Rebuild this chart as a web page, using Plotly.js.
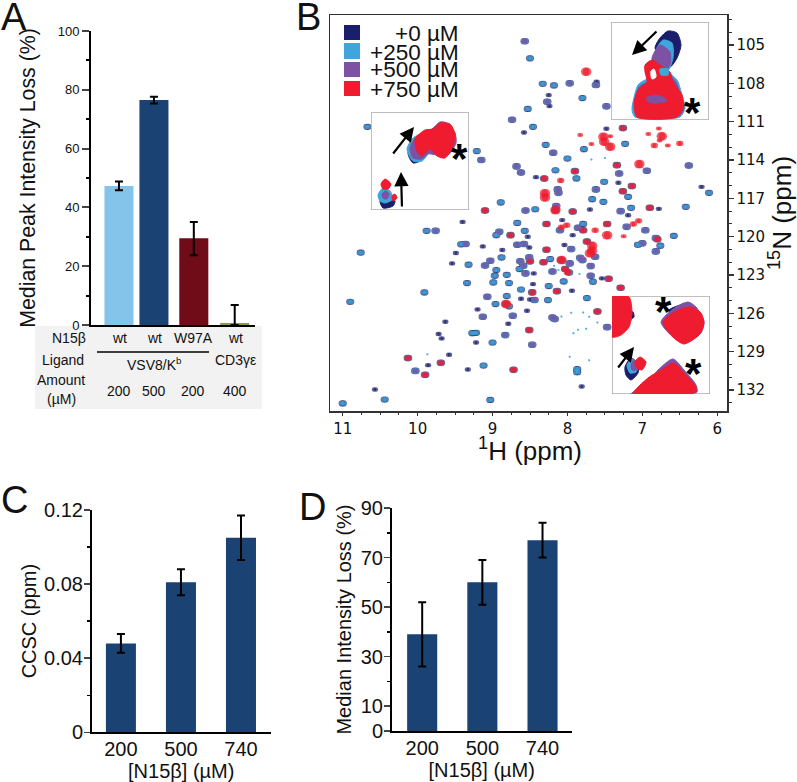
<!DOCTYPE html>
<html><head><meta charset="utf-8">
<script src="https://cdn.plot.ly/plotly-3.0.1.min.js"></script>
<style>html,body{margin:0;padding:0;background:#fff}</style></head>
<body><div id="chart" style="width:797px;height:782px"></div>
<script>
// ---- Panel A ----
const aPos=[0,1,2.14,3.31];
const aValues=[47.3,76.5,29.5,0.7];
const aErrPlus=[1.5,1.1,5.5,6.1];
const aErrMinus=[1.5,1.2,5.8,0.7];
const aColors=['#85c4ea','#1a4273','#6f0c18','#8a9a48'];
const aN15=['wt','wt','W97A','wt'];
const aAmount=['200','500','200','400'];
// ---- Panel C ----
const cCats=['200','500','740'];
const cValues=[0.048,0.081,0.105];
const cErrPlus=[0.005,0.007,0.012];
const cErrMinus=[0.005,0.007,0.012];
// ---- Panel D ----
const dValues=[39,60,77];
const dErrPlus=[13,9,7];
const dErrMinus=[13,9,7];
// ---- Panel B peaks (1H ppm, 15N ppm) ----
const fullPeaks=[[8.57,104.71],[7.97,108.0],[7.62,108.13],[8.27,109.44],[7.48,109.8],[8.74,110.85],[7.26,111.5],[8.19,113.43],[9.15,114.0],[7.34,114.4],[6.94,114.84],[6.38,114.43],[8.68,114.5],[8.62,114.97],[7.9,114.87],[7.31,115.05],[8.31,115.44],[7.14,116.04],[7.26,116.44],[7.62,116.3],[8.12,116.57],[8.13,116.3],[9.10,117.95],[8.56,117.95],[8.16,117.92],[8.15,117.6],[7.93,118.03],[7.29,118.0],[6.90,117.74],[9.76,119.54],[8.91,119.62],[8.76,119.88],[8.28,119.0],[8.10,119.5],[7.79,119.5],[7.86,119.3],[7.47,119.0],[7.21,119.23],[6.96,119.5],[6.82,120.1],[9.36,120.57],[8.67,120.63],[8.58,120.57],[8.28,121.02],[7.95,120.97],[7.74,120.37],[7.63,121.57],[7.0,120.52],[6.8,120.2],[6.82,121.15],[9.1,122.25],[9.03,121.88],[8.63,121.93],[8.59,122.27],[8.51,121.62],[8.5,121.93],[8.32,122.0],[8.08,121.83],[7.97,122.09],[7.8,121.83],[7.83,121.65],[7.69,122.3],[8.56,122.87],[8.2,122.72],[8.03,122.53],[7.98,122.8],[7.69,123.05],[7.45,123.29],[8.47,124.36],[8.14,124.26],[7.29,124.0],[9.07,124.7],[8.82,125.27],[8.73,126.19],[9.13,126.27],[8.2,126.32],[8.17,126.45],[7.6,125.85],[7.47,127.08],[8.51,127.31],[8.83,127.7],[8.47,128.46],[10.13,129.5],[9.69,129.87],[10.03,130.5],[9.9,130.81],[8.72,130.42],[8.44,124.95]];
const bluePeaks=[[8.50,106.04],[8.33,108.03],[8.18,108.16],[7.80,109.15],[8.53,110.0],[8.46,111.4],[10.67,111.4],[7.78,113.15],[8.29,112.81],[7.23,112.73],[9.21,113.3],[8.0,113.88],[8.16,114.8],[7.88,115.44],[7.51,115.7],[6.11,116.57],[7.67,117.06],[7.52,117.27],[7.19,116.88],[8.89,117.32],[8.43,117.85],[7.15,117.74],[6.42,117.66],[9.88,119.54],[8.95,119.88],[8.67,118.92],[8.57,119.54],[7.79,119.0],[6.58,119.93],[9.42,120.6],[10.76,121.25],[8.88,121.62],[8.23,121.75],[7.06,120.63],[6.76,120.7],[9.32,122.19],[8.95,122.61],[8.64,122.53],[8.81,122.98],[8.97,123.05],[9.34,123.63],[8.99,123.58],[8.78,123.63],[8.05,123.5],[7.66,123.52],[8.25,123.86],[8.62,124.13],[9.91,124.36],[8.81,124.65],[10.9,125.09],[8.96,125.27],[8.78,125.45],[8.26,124.96],[7.74,124.8],[9.22,127.52],[9.27,127.55],[9.0,128.28],[9.12,130.08],[7.87,130.37],[7.87,130.6],[10.44,132.74],[11.0,133.05],[9.03,132.77]];
const darkPeaks=[[7.61,107.87],[8.25,108.92],[8.24,109.78],[8.58,111.84],[7.48,111.55],[8.42,115.34],[7.32,115.78],[6.21,116.1],[9.40,118.84],[7.70,117.87],[7.19,118.32],[6.78,117.82],[8.53,120.0],[8.07,118.7],[7.93,119.88],[9.49,121.28],[9.13,120.76],[8.87,121.04],[8.51,120.84],[8.04,120.65],[9.54,122.09],[8.46,123.71],[8.45,122.87],[7.54,123.26],[7.94,124.23],[8.62,124.86],[9.2,125.69],[8.54,125.8],[9.63,126.66],[8.79,126.81],[9.72,127.62],[9.68,127.96],[9.22,128.28],[9.58,129.24],[9.86,130.05],[9.33,130.39],[10.57,131.96],[7.81,131.72],[8.5,124.92]];
const tinyPeaks=[[8.18,122.27],[7.84,122.92],[7.79,125.93],[7.71,126.27],[7.6,126.71],[7.86,127.28],[7.71,129.66],[7.97,129.4],[9.87,129.19],[7.68,113.95],[7.5,113.85],[8.05,122.05],[8.12,122.6],[7.95,125.95],[8.08,126.25],[7.92,127.55],[7.75,127.2]];
const redSmall=[[7.83,112.05],[7.43,112.13],[7.68,112.75],[6.92,111.97],[6.78,111.53],[6.77,112.47],[6.66,112.86],[7.25,119.96]];
const redMid=[[7.26,111.5],[6.84,112.86],[6.50,112.7],[7.34,114.4],[7.9,114.87],[8.31,115.44],[8.09,115.6],[7.14,116.04],[7.26,116.44],[9.10,117.95],[7.93,118.03],[6.90,117.74],[8.76,119.88],[8.28,119.0],[8.01,119.1],[8.08,119.25],[7.79,119.5],[7.63,119.5],[7.47,119.0],[7.12,119.0],[7.05,118.76],[6.8,120.2],[8.28,121.02],[7.74,120.37],[8.5,121.93],[8.32,122.0],[8.03,122.53],[8.0,122.8],[7.45,123.29],[8.47,124.36],[8.14,124.26],[7.29,124.0],[7.6,125.85],[8.51,127.31],[10.13,129.5],[9.69,129.87],[9.9,130.81],[8.72,130.42]];
const redBig=[[7.75,107.09],[7.52,112.18],[7.51,112.57],[7.43,112.96],[6.74,112.13],[7.04,114.32],[8.30,116.93],[8.30,116.6],[8.16,117.92],[7.47,119.88],[7.67,121.1],[7.67,120.7],[7.7,121.3],[8.08,121.83],[8.82,125.27]];
// ---- Panel B insets (inset-local outlines) ----
const in1Navy=[[49,16],[57,9],[66,11],[70,23],[66,36],[59,45],[51,36],[44,26]];
const in1Blue=[[44,30],[52,18],[61,21],[62,36],[56,50],[44,43]];
const in1Purple=[[41,36],[49,23],[59,30],[59,43],[52,51],[44,48]];
const in1BaseBlue=[[22,80],[27,63],[34,58],[57,51],[66,58],[71,73],[74,86],[69,95],[24,95],[21,88]];
const in1BasePurple=[[24,80],[28,65],[37,60],[57,53],[65,60],[70,75],[73,86],[68,94],[27,94],[25,88]];
const in1Red=[[34,43],[41,38],[49,43],[59,50],[62,60],[71,73],[72,86],[66,95],[26,95],[23,81],[27,68],[36,60],[34,50]];
const in1DetailWhite=[[40,49],[43,47],[45,55],[41,57]];
const in1DetailBlue=[[49,47],[57,47],[57,53],[50,53]];
const in1DetailPurple=[[36,75],[50,74],[56,79],[45,81],[37,80]];
const in2Navy=[[37,41],[44,34],[52,44],[49,49],[42,51]];
const in2Blue=[[36,37],[42,26],[52,22],[57,41],[51,49],[42,49]];
const in2Purple=[[39,36],[46,24],[61,17],[69,10],[76,11],[84,21],[85,31],[76,44],[57,42],[51,47],[42,46]];
const in2Red=[[44,27],[54,18],[62,17],[69,11],[79,12],[84,22],[82,34],[74,46],[66,44],[59,37],[51,44],[46,39]];
const in2SmallNavy=[[9,89],[17,82],[24,89],[22,94],[12,96]];
const in2SmallBlue=[[7,83],[12,76],[19,79],[22,87],[14,91],[9,89]];
const in2SmallPurple=[[11,82],[15,79],[18,82],[16,87],[12,86]];
const in2SmallRed=[[10,72],[14,67],[20,72],[17,77],[12,77]];
const in2SmallRed2=[[21,84],[24,82],[26,86],[22,89]];
const in3RedLeft=[[0,1],[17,1],[20,17],[17,31],[9,39],[0,41]];
const in3NavyLeft=[[18,15],[21,16],[22,21],[19,23]];
const in3TopNavy=[[57,14],[69,9],[66,13],[59,18]];
const in3TopPurple=[[49,26],[64,11],[76,6],[84,11],[92,26],[89,37],[72,47],[62,42]];
const in3TopRed=[[51,26],[66,14],[79,11],[89,17],[92,27],[87,39],[72,48],[62,42]];
const in3BottomPurple=[[19,98],[34,89],[46,74],[61,63],[72,74],[84,89],[85,96],[74,98]];
const in3BottomRed=[[21,98],[36,82],[49,74],[62,67],[71,76],[84,91],[84,96],[74,98]];
const in3SmallNavy=[[13,71],[19,62],[27,69],[26,77],[19,84],[14,79]];
const in3SmallBlue=[[15,69],[20,63],[26,69],[24,76],[18,77]];
const in3SmallPurple=[[19,69],[22,64],[27,69],[25,74],[20,74]];
const in3SmallRed=[[23,66],[28,61],[34,66],[30,74],[25,72]];

const NAVY='#1b1f6b',BLUE='#3fa6dc',PURPLE='#7d52a5',RED='#ee1c2e',BAR='#1a4273';
const W=797,H=782,SANS='"Liberation Sans",Arial,sans-serif',DJ='"DejaVu Sans",sans-serif';
const dx=(a,b)=>[a/W,b/W], dy=(top,bot)=>[1-bot/H,1-top/H];

function capsule(groups){ // each larger peak is a little wider than tall
  const x=[],y=[],s=[];
  groups.forEach(([pts,size])=>pts.forEach(([h,n])=>{
    const d=size<3?0:0.013;
    x.push(h-d,h+d);y.push(n,n);s.push(size,size);
  }));
  return {x,y,s};
}
function peaks(groups,color,name){
  const c=capsule(groups);
  return {type:'scatter',mode:'markers',name,x:c.x,y:c.y,xaxis:'x2',yaxis:'y2',
    marker:{color,size:c.s,line:{width:0}},hoverinfo:'x+y'};
}
function blob(pts,color,n){
  return {type:'scatter',mode:'lines',fill:'toself',fillcolor:color,
    x:pts.map(p=>p[0]).concat(pts[0][0]),y:pts.map(p=>p[1]).concat(pts[0][1]),
    line:{color,width:1,shape:'spline',smoothing:0.7},xaxis:'x'+n,yaxis:'y'+n,hoverinfo:'skip'};
}
const err=(p,m,th)=>({type:'data',symmetric:false,array:p,arrayminus:m,color:'#000',thickness:th,width:4});

const data=[
 {type:'bar',x:aPos,y:aValues,width:0.83,marker:{color:aColors},error_y:err(aErrPlus,aErrMinus,2),xaxis:'x',yaxis:'y'},
 peaks([[fullPeaks,6.6],[bluePeaks,6.2],[darkPeaks,4.4]],NAVY,'+0 µM'),
 peaks([[fullPeaks,5.6],[bluePeaks,4.8],[tinyPeaks,2]],BLUE,'+250 µM'),
 peaks([[fullPeaks,4.8]],PURPLE,'+500 µM'),
 peaks([[redSmall,4],[redMid,5.4],[redBig,8.5]],RED,'+750 µM'),
 {type:'bar',x:cCats,y:cValues,width:0.5,marker:{color:BAR},error_y:err(cErrPlus,cErrMinus,2),xaxis:'x3',yaxis:'y3'},
 {type:'bar',x:cCats,y:dValues,width:0.5,marker:{color:BAR},error_y:err(dErrPlus,dErrMinus,2),xaxis:'x4',yaxis:'y4'},
 blob(in1Navy,NAVY,5),blob(in1Blue,BLUE,5),blob(in1Purple,PURPLE,5),blob(in1BaseBlue,BLUE,5),blob(in1BasePurple,PURPLE,5),blob(in1Red,RED,5),
 blob(in1DetailWhite,'#ffffff',5),blob(in1DetailBlue,BLUE,5),blob(in1DetailPurple,PURPLE,5),
 blob(in2Navy,NAVY,6),blob(in2Blue,BLUE,6),blob(in2Purple,PURPLE,6),blob(in2Red,RED,6),
 blob(in2SmallNavy,NAVY,6),blob(in2SmallBlue,BLUE,6),blob(in2SmallPurple,PURPLE,6),blob(in2SmallRed,RED,6),blob(in2SmallRed2,RED,6),
 blob(in3NavyLeft,NAVY,7),blob(in3RedLeft,RED,7),blob(in3TopNavy,NAVY,7),blob(in3TopPurple,PURPLE,7),blob(in3TopRed,RED,7),
 blob(in3BottomPurple,PURPLE,7),blob(in3BottomRed,RED,7),
 blob(in3SmallNavy,NAVY,7),blob(in3SmallBlue,BLUE,7),blob(in3SmallPurple,PURPLE,7),blob(in3SmallRed,RED,7)
];

const axisLine=w=>({showline:true,linecolor:'#000',linewidth:w,showgrid:false,zeroline:false});
const insetAxis=(dom,anchor)=>({domain:dom,anchor,range:[0,98],visible:false,fixedrange:true});
const insetAxisY=(dom,anchor)=>({domain:dom,anchor,range:[98,0],visible:false,fixedrange:true});

const layout={
 width:W,height:H,margin:{l:0,r:0,t:0,b:0},showlegend:false,paper_bgcolor:'#fff',plot_bgcolor:'rgba(0,0,0,0)',
 font:{family:SANS,color:'#111'},
 xaxis:{...axisLine(2),domain:dx(91,255),anchor:'y',range:[-0.8,3.89],showticklabels:false,ticks:''},
 yaxis:{...axisLine(2),domain:dy(31,325),anchor:'x',range:[0,100],tickvals:[0,20,40,60,80,100],ticks:'outside',ticklen:7,tickwidth:2,
   tickfont:{size:13},minor:{dtick:10,tick0:0,ticks:'outside',ticklen:3,tickwidth:2,tickcolor:'#000'},
   title:{text:'Median Peak Intensity Loss (%)',font:{size:21.3},standoff:16}},
 xaxis2:{domain:dx(330,727),anchor:'y2',range:[11.17,5.87],showline:true,mirror:true,linecolor:'#333',linewidth:1.5,showgrid:false,zeroline:false,
   tick0:6,dtick:1,ticks:'outside',ticklen:3,tickwidth:1.5,tickcolor:'#333',tickfont:{family:DJ,size:15,color:'#111'},
   minor:{dtick:0.25,ticks:'outside',ticklen:2,tickwidth:1,tickcolor:'#333'}},
 yaxis2:{domain:dy(15,411),anchor:'x2',side:'right',range:[133.64,102.65],showline:true,mirror:true,linecolor:'#333',linewidth:1.5,showgrid:false,zeroline:false,
   tick0:105,dtick:3,ticks:'outside',ticklen:5,tickwidth:1.5,tickcolor:'#333',tickfont:{family:DJ,size:15,color:'#111'},
   minor:{dtick:1,tick0:105,ticks:'outside',ticklen:3,tickwidth:1,tickcolor:'#333'},
   title:{text:'<sup>15</sup>N (ppm)',font:{size:26},standoff:10}},
 xaxis3:{...axisLine(2),domain:dx(91.5,271),anchor:'y3',type:'category',range:[-0.49,2.5],ticks:'',ticklabelstandoff:-2,tickfont:{size:20},
   title:{text:'[N15β] (µM)',font:{size:20},standoff:3}},
 yaxis3:{...axisLine(1.5),domain:dy(510,732.3),anchor:'x3',range:[0,0.12],tickvals:[0,0.04,0.08,0.12],ticktext:['0','0.04','0.08','0.12'],ticks:'outside',ticklen:6,tickwidth:1.5,ticklabelstandoff:-3,
   tickfont:{size:20},minor:{dtick:0.02,tick0:0,ticks:'outside',ticklen:3,tickwidth:1.5,tickcolor:'#000'},
   title:{text:'CCSC (ppm)',font:{size:20},standoff:2}},
 xaxis4:{...axisLine(2),domain:dx(391.5,572),anchor:'y4',type:'category',range:[-0.51,2.49],ticks:'',ticklabelstandoff:-2,tickfont:{size:20},
   title:{text:'[N15β] (µM)',font:{size:20},standoff:3}},
 yaxis4:{...axisLine(1.5),domain:dy(508,731),anchor:'x4',range:[0,90],tickvals:[0,10,30,50,70,90],ticks:'outside',ticklen:6,tickwidth:1.5,ticklabelstandoff:-3,
   tickfont:{size:20},minor:{dtick:10,tick0:0,ticks:'outside',ticklen:3,tickwidth:1.5,tickcolor:'#000'},
   title:{text:'Median Intensity Loss (%)',font:{size:20},standoff:4}},
 xaxis5:insetAxis(dx(611,709),'y5'),yaxis5:insetAxisY(dy(22,120),'x5'),
 xaxis6:insetAxis(dx(371,469),'y6'),yaxis6:insetAxisY(dy(112,210),'x6'),
 xaxis7:insetAxis(dx(612,710),'y7'),yaxis7:insetAxisY(dy(296,394),'x7'),
 shapes:[],annotations:[]
};
// helpers in page pixels for furniture
const px=(x,y)=>({xref:'paper',yref:'paper',x:x/W,y:1-y/H});
function label(text,x,y,size,opt={}){
  layout.annotations.push({...px(x,y),text,showarrow:false,xanchor:'center',yanchor:'middle',font:{size,family:SANS,color:'#111'},...opt});
}
function rectPx(x0,y0,x1,y1,fill){
  layout.shapes.push({type:'rect',xref:'paper',yref:'paper',x0:x0/W,x1:x1/W,y0:1-y0/H,y1:1-y1/H,fillcolor:fill,line:{width:0},layer:'below'});
}
// Panel letters
label('A',14,17,38);label('B',308,17,38);label('C',14,500,38);label('D',312,507,38);
// Panel B x title
label('<sup>1</sup>H (ppm)',530,449,26);
// Table below panel A
rectPx(35,326,262,409,'#f2f2f2');
label('N15β',69,338,14);label('Ligand',63,360,14);label('Amount',61,380,14);label('(µM)',61,399,14);
const aCenters=[119,154,193,235];
aN15.forEach((t,i)=>label(t,aCenters[i],338,14));
aAmount.forEach((t,i)=>label(t,aCenters[i],391,14));
label('VSV8/K<sup>b</sup>',154,364,14);label('CD3γε',235,360,14);
layout.shapes.push({type:'line',xref:'paper',yref:'paper',x0:97/W,x1:209/W,y0:1-352/H,y1:1-352/H,line:{color:'#000',width:1.5}});
// Legend of panel B
[[25,40,NAVY,'+0 µM',34],[43,59,BLUE,'+250 µM',52],[62,77,PURPLE,'+500 µM',70],[81,96,RED,'+750 µM',89]].forEach(([a,b,c,t,y])=>{
  layout.shapes.push({type:'rect',xref:'paper',yref:'paper',x0:344/W,x1:360/W,y0:1-a/H,y1:1-b/H,fillcolor:c,line:{width:0}});
  label(t,461,y,22.5,{xanchor:'right'});
});
// Inset frames
['5','6','7'].forEach(n=>layout.shapes.push({type:'rect',xref:'x'+n,yref:'y'+n,x0:0,x1:98,y0:0,y1:98,fillcolor:'#fff',line:{color:'#aaa',width:1.5},layer:'below'}));
// Inset arrows and stars
function arrow(n,x0,y0,x1,y1){
  layout.annotations.push({xref:'x'+n,yref:'y'+n,axref:'x'+n,ayref:'y'+n,x:x1,y:y1,ax:x0,ay:y0,text:'',showarrow:true,arrowhead:2,arrowsize:1.3,arrowwidth:2.2,arrowcolor:'#000'});
}
function star(n,x,y){
  layout.annotations.push({xref:'x'+n,yref:'y'+n,x,y,text:'*',showarrow:false,yshift:-5,font:{size:42,family:SANS,color:'#000',weight:700}});
}
arrow(5,47,8,21,33);star(5,81,85);
arrow(6,21,43,43,15);arrow(6,31,96,30,60);star(6,88,41);
arrow(7,5,73,22,51);star(7,51,10);star(7,81,72);

Plotly.newPlot('chart',data,layout,{staticPlot:true,displayModeBar:false});
</script></body></html>
